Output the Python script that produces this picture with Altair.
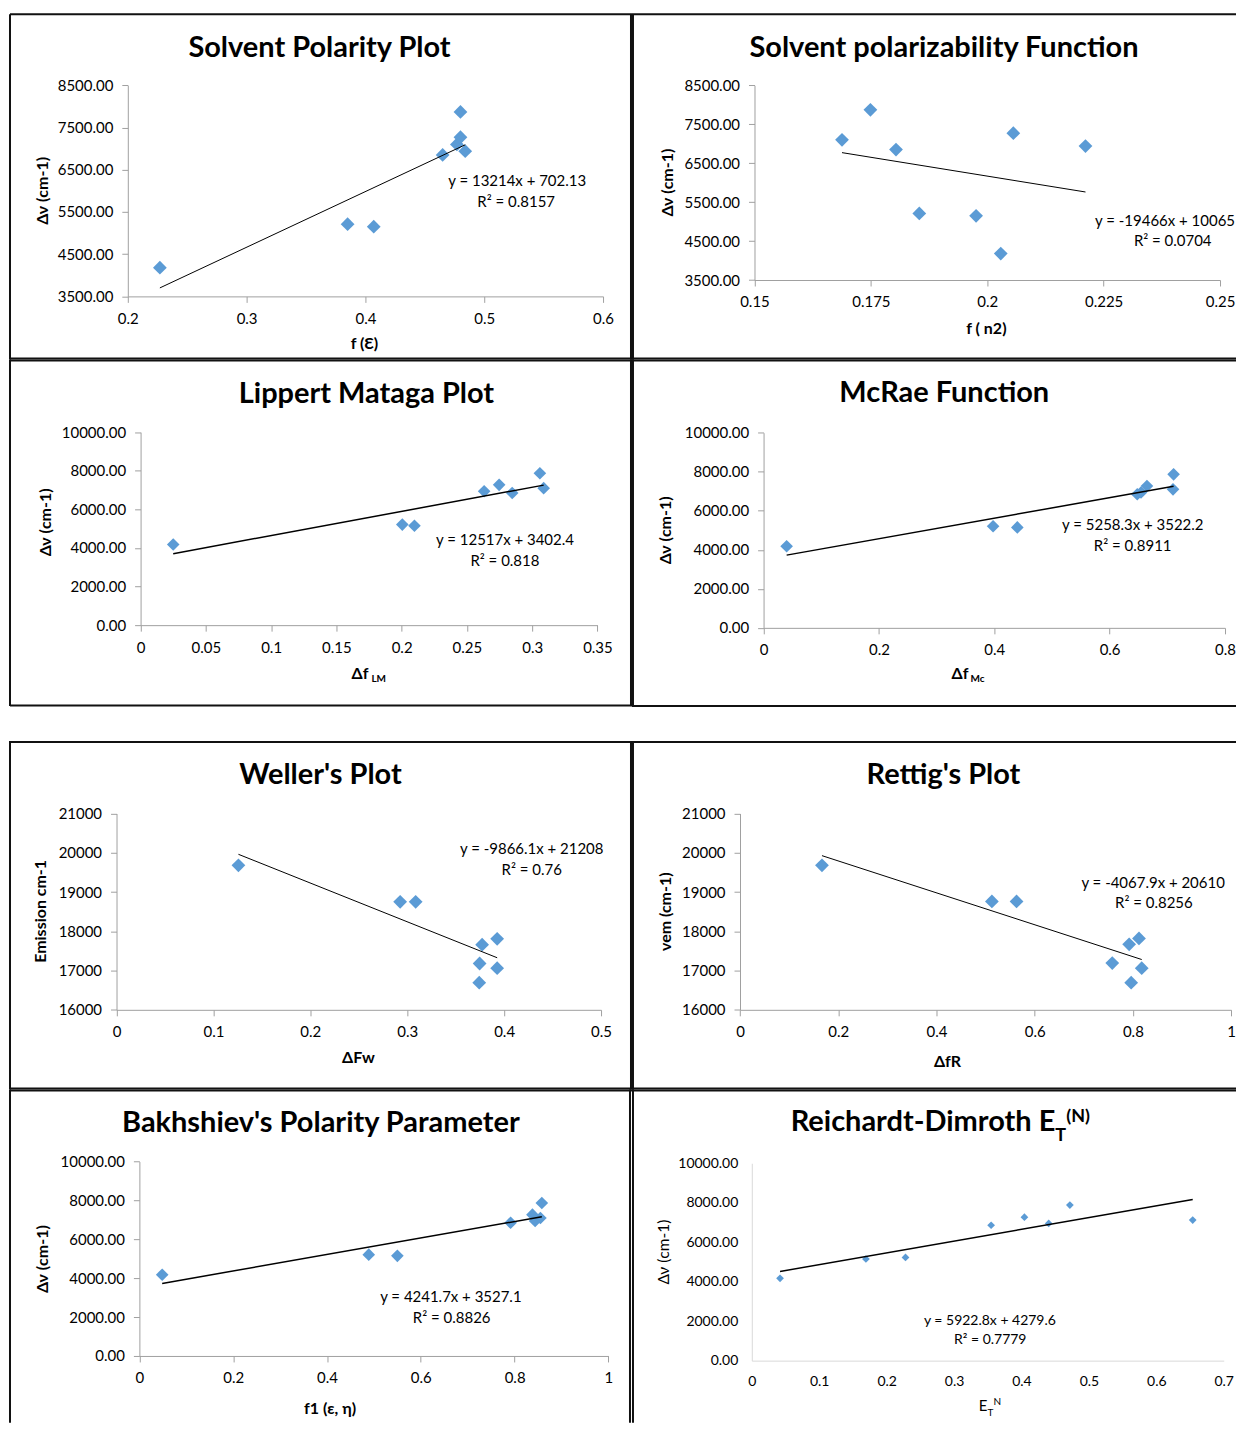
import altair as alt
import pandas as pd

FONT = "Lato"
BLUE = "#5B9BD5"
INK = "#000000"

# ---------------- data ----------------
p1_x = [0.227, 0.385, 0.407, 0.465, 0.477, 0.480, 0.480, 0.484]
p1_y = [4180, 5210, 5150, 6850, 7100, 7270, 7870, 6940]

p2_x = [0.1688, 0.1749, 0.1804, 0.1854, 0.1976, 0.2029, 0.2056, 0.2211]
p2_y = [7100, 7870, 6850, 5210, 5150, 4180, 7270, 6940]

p3_x = [0.025, 0.2005, 0.2098, 0.2632, 0.2747, 0.2847, 0.3059, 0.3088]
p3_y = [4180, 5210, 5150, 6940, 7270, 6850, 7870, 7100]

p4_x = [0.040, 0.398, 0.440, 0.648, 0.6545, 0.6648, 0.711, 0.710]
p4_y = [4180, 5210, 5150, 6850, 6940, 7270, 7870, 7100]

p5_x = [0.1258, 0.2927, 0.3087, 0.3773, 0.3928, 0.3747, 0.3928, 0.3743]
p5_y = [19680, 18750, 18750, 17660, 17810, 17180, 17060, 16690]

p6_x = [0.1669, 0.5129, 0.5631, 0.758, 0.7924, 0.8124, 0.818, 0.7965]
p6_y = [19680, 18760, 18760, 17190, 17670, 17820, 17060, 16690]

p7_x = [0.0486, 0.489, 0.550, 0.7915, 0.838, 0.8437, 0.858, 0.855]
p7_y = [4180, 5210, 5150, 6850, 7270, 6940, 7870, 7100]

p8_x = [0.0419, 0.1693, 0.228, 0.355, 0.4044, 0.4404, 0.4718, 0.654]
p8_y = [4170, 5150, 5230, 6860, 7270, 6950, 7880, 7120]

# tick labels
x1_ticks = [0.2, 0.3, 0.4, 0.5, 0.6]
x2_ticks = [0.15, 0.175, 0.2, 0.225, 0.25]
x3_ticks = [0, 0.05, 0.1, 0.15, 0.2, 0.25, 0.3, 0.35]
x4_ticks = [0, 0.2, 0.4, 0.6, 0.8]
x5_ticks = [0, 0.1, 0.2, 0.3, 0.4, 0.5]
x6_ticks = [0, 0.2, 0.4, 0.6, 0.8, 1]
x7_ticks = [0, 0.2, 0.4, 0.6, 0.8, 1]
x8_ticks = [0, 0.1, 0.2, 0.3, 0.4, 0.5, 0.6, 0.7]
y12_ticks = [3500, 4500, 5500, 6500, 7500, 8500]
y_dv_ticks = [0, 2000, 4000, 6000, 8000, 10000]
y_em_ticks = [16000, 17000, 18000, 19000, 20000, 21000]

# text
titles = ["Solvent Polarity Plot", "Solvent polarizability Function",
          "Lippert Mataga Plot", "McRae Function", "Weller's Plot",
          "Rettig's Plot", "Bakhshiev's Polarity Parameter", "Reichardt-Dimroth E"]
equations = [("y = 13214x + 702.13", "R² = 0.8157"),
             ("y = -19466x + 10065", "R² = 0.0704"),
             ("y = 12517x + 3402.4", "R² = 0.818"),
             ("y = 5258.3x + 3522.2", "R² = 0.8911"),
             ("y = -9866.1x + 21208", "R² = 0.76"),
             ("y = -4067.9x + 20610", "R² = 0.8256"),
             ("y = 4241.7x + 3527.1", "R² = 0.8826"),
             ("y = 5922.8x + 4279.6", "R² = 0.7779")]

DUMMY = pd.DataFrame({"d": [0]})


def txt(s, x, y, size, bold=False, align="center", angle=0, baseline="middle"):
    kw = dict(text=s, fontSize=size, font=FONT,
              fontWeight="bold" if bold else "normal",
              align=align, baseline=baseline, color=INK)
    if angle:
        kw["angle"] = angle
    return alt.Chart(DUMMY).mark_text(**kw).encode(x=alt.value(x), y=alt.value(y))


def hline(x1, x2, y):
    return alt.Chart(DUMMY).mark_rule(color="#111111", strokeWidth=2).encode(
        x=alt.value(x1), x2=alt.value(x2), y=alt.value(y))


def vline(x, y1, y2):
    return alt.Chart(DUMMY).mark_rule(color="#111111", strokeWidth=2).encode(
        x=alt.value(x), y=alt.value(y1), y2=alt.value(y2))


def panel(xs_, ys_, W, H, plot, xdom, ydom, xticks, yticks, yfmt, size, lw,
          texts, edges, axcolor="#a0a0a0", tick=6, lpad=9, lsize=15):
    L, T, R, B = plot
    xs = alt.Scale(domain=xdom, range=[L, R], nice=False, zero=False)
    ys = alt.Scale(domain=ydom, range=[B, T], nice=False, zero=False)
    common = dict(grid=False, title=None, labelFont=FONT, labelFontSize=lsize,
                  labelColor=INK, domainColor=axcolor, tickColor=axcolor,
                  tickSize=tick, ticks=tick > 0, labelPadding=lpad,
                  labelFlush=False, labelOverlap=False, domainWidth=1)
    xa = alt.Axis(orient="bottom", offset=B - H, values=xticks,
                  labelExpr="format(datum.value, '~g')", **common)
    ya = alt.Axis(orient="left", offset=-L, values=yticks, format=yfmt, **common)
    df = pd.DataFrame({"x": xs_, "y": ys_})
    base = alt.Chart(df)
    enc = dict(x=alt.X("x:Q", scale=xs, axis=xa), y=alt.Y("y:Q", scale=ys, axis=ya))
    pts = base.mark_point(shape="diamond", filled=True, size=size, color=BLUE,
                          opacity=1).encode(**enc)
    line = base.transform_regression("x", "y").mark_line(
        color="#000000", strokeWidth=lw).encode(**enc)
    return alt.layer(pts, line, *texts, *edges).properties(width=W, height=H)


TS = 29   # title size
AS = 16   # axis title size
ES = 15   # equation size
SUB = 10  # subscript size

# Panel 1
P1 = panel(p1_x, p1_y, 624, 347, (119, 72.3, 595, 283.7), [0.2, 0.6], [3500, 8500],
           x1_ticks, y12_ticks, ".2f", 190, 1,
           [txt(titles[0], 311, 35, TS, True),
            txt("Δν (cm-1)", 34, 178, AS, True, angle=270),
            txt("f (Ɛ)", 356, 331, AS, True),
            txt(equations[0][0], 509, 168, ES),
            txt(equations[0][1], 508, 189, ES)],
           [vline(1, 1, 347), hline(1, 624, 1), vline(623, 1, 347), hline(1, 624, 346)])

# Panel 2
P2 = panel(p2_x, p2_y, 605, 347, (122.7, 72.3, 589, 267.3), [0.15, 0.25], [3500, 8500],
           x2_ticks, y12_ticks, ".2f", 190, 1,
           [txt(titles[1], 312.5, 34.7, TS, True),
            txt("Δν (cm-1)", 36, 169.7, AS, True, angle=270),
            txt("f ( n2)", 355, 316, AS, True),
            txt(equations[1][0], 604, 208, ES, align="right"),
            txt(equations[1][1], 541.6, 228.7, ES)],
           [vline(1, 1, 347), hline(0, 605, 1), hline(0, 605, 346)])

# Panel 3
P3 = panel(p3_x, p3_y, 624, 382, (131.8, 72.7, 589.4, 266), [0, 0.35], [0, 10000],
           x3_ticks, y_dv_ticks, ".2f", 160, 1.5,
           [txt(titles[2], 358, 34, TS, True),
            txt("Δν (cm-1)", 37, 163, AS, True, angle=270),
            txt("Δf", 360, 315, AS, True, align="right"),
            txt("LM", 363, 320, SUB, True, align="left"),
            txt(equations[2][0], 496.8, 181, ES),
            txt(equations[2][1], 496.7, 202, ES)],
           [vline(1, 0, 347), hline(1, 624, 1), vline(623, 0, 347), hline(1, 624, 346.5)])

# Panel 4
P4 = panel(p4_x, p4_y, 605, 382, (131.8, 73.3, 593.9, 268.7), [0, 0.8], [0, 10000],
           x4_ticks, y_dv_ticks, ".2f", 160, 1.5,
           [txt(titles[3], 312.8, 33, TS, True),
            txt("Δν (cm-1)", 34, 171, AS, True, angle=270),
            txt("Δf", 337, 315, AS, True, align="right"),
            txt("Mc", 339, 320, SUB, True, align="left"),
            txt(equations[3][0], 501.6, 166, ES),
            txt(equations[3][1], 501.5, 186.7, ES)],
           [vline(1, 0, 348), hline(0, 605, 1), hline(0, 605, 347)])

# Panel 5
P5 = panel(p5_x, p5_y, 624, 349, (107.7, 72.7, 593, 269.3), [0, 0.5], [16000, 21000],
           x5_ticks, y_em_ticks, "d", 190, 1,
           [txt(titles[4], 312, 34, TS, True),
            txt("Emission cm-1", 32, 170.7, AS, True, angle=270),
            txt("ΔFw", 350, 317.3, AS, True),
            txt(equations[4][0], 523.6, 108.3, ES),
            txt(equations[4][1], 523.6, 129.7, ES)],
           [vline(1, 0, 349), hline(1, 624, 1), vline(623, 0, 349), hline(1, 624, 348)])

# Panel 6
P6 = panel(p6_x, p6_y, 605, 349, (108.2, 72.7, 600.1, 269.3), [0, 1], [16000, 21000],
           x6_ticks, y_em_ticks, "d", 190, 1,
           [txt(titles[5], 312, 34, TS, True),
            txt("vem (cm-1)", 34, 171, AS, True, angle=270),
            txt("ΔfR", 316, 321.3, AS, True),
            txt(equations[5][0], 522, 142.3, ES),
            txt(equations[5][1], 522.7, 162.3, ES)],
           [vline(1, 0, 349), hline(0, 605, 1), hline(0, 605, 348)])

# Panel 7
P7 = panel(p7_x, p7_y, 624, 334, (130.6, 72.3, 600.4, 267), [0, 1], [0, 10000],
           x7_ticks, y_dv_ticks, ".2f", 160, 1.5,
           [txt(titles[6], 312.4, 34, TS, True),
            txt("Δν (cm-1)", 34, 170, AS, True, angle=270),
            txt("f1 (ε, η)", 321.6, 320, AS, True),
            txt(equations[6][0], 442.6, 208.3, ES),
            txt(equations[6][1], 443.4, 229.3, ES)],
           [vline(1, 0, 334), hline(1, 624, 1), vline(622, 0, 334)])

# Panel 8
P8 = panel(p8_x, p8_y, 605, 334, (120, 74, 592.7, 271.7), [0, 0.7], [0, 10000],
           x8_ticks, y_dv_ticks, ".2f", 60, 1.6,
           [txt(titles[7], 424, 42, TS, True, align="right", baseline="alphabetic"),
            txt("T", 424, 52, 18, True, align="left", baseline="alphabetic"),
            txt("(N)", 435, 33, 18, True, align="left", baseline="alphabetic"),
            txt("Δν (cm-1)", 31.6, 163, 15.5, False, angle=270),
            txt("E", 356, 322, 15, False, align="right", baseline="alphabetic"),
            txt("T", 356, 327, 10, False, align="left", baseline="alphabetic"),
            txt("N", 362, 316, 10, False, align="left", baseline="alphabetic"),
            txt(equations[7][0], 358.5, 231.7, 14),
            txt(equations[7][1], 358.8, 250.7, 14)],
           [vline(1, 0, 334), hline(0, 605, 1)],
           axcolor="#d9d9d9", tick=0, lpad=14, lsize=14)

chart = alt.concat(P1, P2, P3, P4, P5, P6, P7, P8, columns=2, spacing=0,
                   bounds="flush", align="each").properties(
    padding={"left": 0, "top": 3, "right": 0, "bottom": 0}
).configure(background="white").configure_view(stroke="transparent")

chart.save("out.html", embed_options={"renderer": "svg", "actions": False})
